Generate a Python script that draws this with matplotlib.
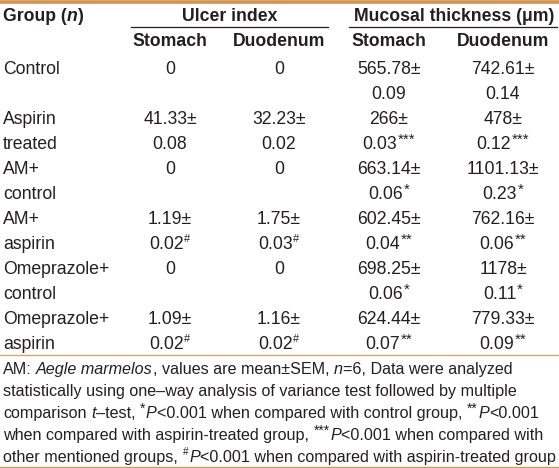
import matplotlib
matplotlib.use("Agg")
import matplotlib.pyplot as plt

plt.rcParams['font.family'] = ['Liberation Sans', 'DejaVu Sans']

# ---- data ----
# each cell: (first line, second line); superscripts marked after "^"
groups = [("Control", ""), ("Aspirin", "treated"), ("AM+", "control"),
          ("AM+", "aspirin"), ("Omeprazole+", "control"), ("Omeprazole+", "aspirin")]
ulcer_stomach = [("0", ""), ("41.33±", "0.08"), ("0", ""), ("1.19±", "0.02^#"),
                 ("0", ""), ("1.09±", "0.02^#")]
ulcer_duodenum = [("0", ""), ("32.23±", "0.02"), ("0", ""), ("1.75±", "0.03^#"),
                  ("0", ""), ("1.16±", "0.02^#")]
muc_stomach = [("565.78±", "0.09"), ("266±", "0.03^***"), ("663.14±", "0.06^*"),
               ("602.45±", "0.04^**"), ("698.25±", "0.06^*"), ("624.44±", "0.07^**")]
muc_duodenum = [("742.61±", "0.14"), ("478±", "0.12^***"), ("1101.13±", "0.23^*"),
                ("762.16±", "0.06^**"), ("1178±", "0.11^*"), ("779.33±", "0.09^**")]
header_groups = ["Ulcer index", "Mucosal thickness (μm)"]
subheaders = ["Stomach", "Duodenum", "Stomach", "Duodenum"]
# footnote segments: (text, kind) kind: n normal, i italic, s superscript, a asterisk
footnote = [
    [("AM: ", "n"), ("Aegle marmelos", "i"), (", values are mean±SEM, ", "n"), ("n", "i"),
     ("=6, Data were analyzed", "n")],
    [("statistically using one–way analysis of variance test followed by multiple", "n")],
    [("comparison ", "n"), ("t", "i"), ("–test, ", "n"), ("*", "a"), ("P", "i"),
     ("<0.001 when compared with control group, ", "n"), ("**", "a"), ("P", "i"), ("<0.001", "n")],
    [("when compared with aspirin-treated group, ", "n"), ("***", "a"), ("P", "i"),
     ("<0.001 when compared with", "n")],
    [("other mentioned groups, ", "n"), ("#", "s"), ("P", "i"),
     ("<0.001 when compared with aspirin-treated group", "n")],
]

W, H = 559, 468
fig = plt.figure(figsize=(W / 100, H / 100), dpi=100)
ax = fig.add_axes([0, 0, 1, 1])
ax.set_xlim(0, W)
ax.set_ylim(H, 0)
ax.axis('off')
renderer = fig.canvas.get_renderer()

TXT = '#231f20'
PX = 100 / 72.0
FS = 12.7
FS_NOTE = 11.6

_space_cache = {}


def _w(s, size, weight, style):
    t = ax.text(0, 0, s, fontsize=size, fontweight=weight, fontstyle=style)
    w = t.get_window_extent(renderer).width if s.strip() else 0.0
    t.remove()
    return w


def seg_width(s, size, weight, style):
    key = (size, weight, style)
    if key not in _space_cache:
        _space_cache[key] = _w("a a", size, weight, style) - _w("aa", size, weight, style)
    sp = _space_cache[key]
    core = s.strip(" ")
    lead = len(s) - len(s.lstrip(" "))
    trail = len(s) - len(s.rstrip(" "))
    return lead * sp, _w(core, size, weight, style), trail * sp


def draw_rich(x, yc, segs, size, ha='left', weight='normal', color=TXT):
    """segs: list of (text, kind). yc = visual centre of the line."""
    items = []
    for s, kind in segs:
        style = 'italic' if kind == 'i' else 'normal'
        if kind == 's':
            sz = size * 0.62
        elif kind == 'a':
            sz = size * 0.85
        else:
            sz = size
        lead, core, trail = seg_width(s, sz, weight, style)
        gap = 1.0 if kind in ('s', 'a') else 0.0
        items.append((s.strip(" "), kind, sz, style, lead, core, trail, gap))
    total = sum(it[4] + it[5] + it[6] + it[7] for it in items)
    x0 = x - total / 2 if ha == 'center' else x
    base = yc + 0.36 * size * PX
    cx = x0
    for s, kind, sz, style, lead, core, trail, gap in items:
        cx += lead
        if kind == 's':
            y = base - 0.40 * size * PX
        elif kind == 'a':
            y = base - 0.30 * size * PX
        else:
            y = base
        if s:
            ax.text(cx + (0.5 if gap else 0), y, s, fontsize=sz, fontweight=weight,
                    fontstyle=style, color=color, ha='left', va='baseline')
        cx += core + trail + gap


def cell(s):
    if "^" in s:
        a, b = s.split("^")
        return [(a, "n"), (b, "a" if "*" in b else "s")]
    return [(s, "n")]


# lines
ax.plot([0, W], [1.5, 1.5], color='#d4914f', lw=2.6, solid_capstyle='butt')
ax.plot([131, 328], [27, 27], color='#231f20', lw=0.9)
ax.plot([349, 557], [27, 27], color='#231f20', lw=0.9)
ax.plot([0, W], [355, 355], color='#d9a066', lw=0.9)
ax.plot([0, W], [467, 467], color='#c8a050', lw=1.0)

# headers
draw_rich(3, 15, [("Group (", "n"), ("n", "i"), (")", "n")], FS, weight='bold')
draw_rich(230, 15, [(header_groups[0], "n")], FS, ha='center', weight='bold')
draw_rich(454, 15, [(header_groups[1], "n")], FS, ha='center', weight='bold')
col_x = [170, 279, 389, 503]
for x, s in zip(col_x, subheaders):
    draw_rich(x, 40, [(s, "n")], FS, ha='center', weight='bold')

# body
row_y0 = 68
step = 25
cols = [ulcer_stomach, ulcer_duodenum, muc_stomach, muc_duodenum]
for i, (g1, g2) in enumerate(groups):
    y1 = row_y0 + 2 * step * i
    y2 = y1 + step
    draw_rich(3, y1, [(g1, "n")], FS)
    if g2:
        draw_rich(3, y2, [(g2, "n")], FS)
    for x, col in zip(col_x, cols):
        a, b = col[i]
        draw_rich(x, y1, cell(a), FS, ha='center')
        if b:
            draw_rich(x, y2, cell(b), FS, ha='center')

# footnote
for k, segs in enumerate(footnote):
    draw_rich(3, 368 + 22 * k, segs, FS_NOTE)

fig.savefig('out.png', dpi=100)
